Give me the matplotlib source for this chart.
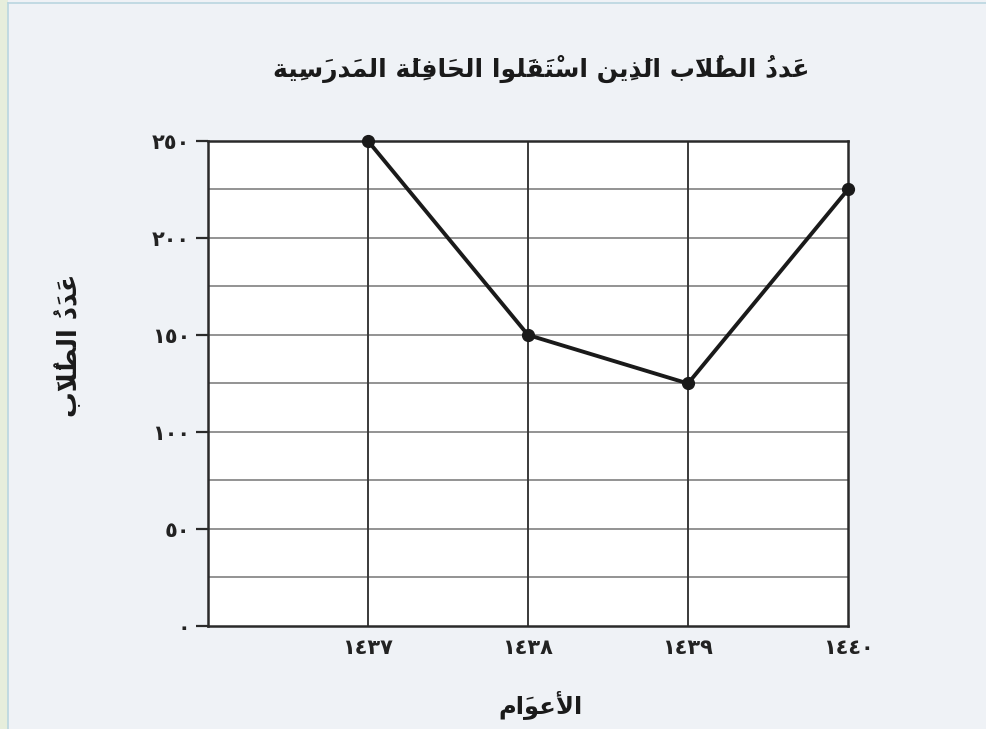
import matplotlib
matplotlib.use('Agg')
import matplotlib.pyplot as plt
from matplotlib.patches import Rectangle

years = [1437, 1438, 1439, 1440]
students = [250, 150, 125, 225]
year_labels = ['١٤٣٧', '١٤٣٨', '١٤٣٩', '١٤٤٠']
y_ticks = [0, 50, 100, 150, 200, 250]
y_tick_labels = ['٠', '٥٠', '١٠٠', '١٥٠', '٢٠٠', '٢٥٠']
title_text = 'عَددُ الطُلَاب الَذِين اسْتَقَلوا الحَافِلَة المَدرَسِية'
xlabel_text = 'الأعوَام'
ylabel_text = 'عَدَدُ الطُلَاب'

# matplotlib has no arabic shaping, so map letters to presentation forms
# (isolated, final, initial, medial); None = letter does not join forward
FORMS = {
    'ا': ('\uFE8D', '\uFE8E', None, None),
    'أ': ('\uFE83', '\uFE84', None, None),
    'ب': ('\uFE8F', '\uFE90', '\uFE91', '\uFE92'),
    'ة': ('\uFE93', '\uFE94', None, None),
    'ت': ('\uFE95', '\uFE96', '\uFE97', '\uFE98'),
    'ح': ('\uFEA1', '\uFEA2', '\uFEA3', '\uFEA4'),
    'د': ('\uFEA9', '\uFEAA', None, None),
    'ذ': ('\uFEAB', '\uFEAC', None, None),
    'ر': ('\uFEAD', '\uFEAE', None, None),
    'س': ('\uFEB1', '\uFEB2', '\uFEB3', '\uFEB4'),
    'ط': ('\uFEC1', '\uFEC2', '\uFEC3', '\uFEC4'),
    'ع': ('\uFEC9', '\uFECA', '\uFECB', '\uFECC'),
    'ف': ('\uFED1', '\uFED2', '\uFED3', '\uFED4'),
    'ق': ('\uFED5', '\uFED6', '\uFED7', '\uFED8'),
    'ل': ('\uFEDD', '\uFEDE', '\uFEDF', '\uFEE0'),
    'م': ('\uFEE1', '\uFEE2', '\uFEE3', '\uFEE4'),
    'ن': ('\uFEE5', '\uFEE6', '\uFEE7', '\uFEE8'),
    'و': ('\uFEED', '\uFEEE', None, None),
    'ي': ('\uFEF1', '\uFEF2', '\uFEF3', '\uFEF4'),
}
LAMALEF = {'ا': ('\uFEFB', '\uFEFC'), 'أ': ('\uFEF7', '\uFEF8')}
MARKS = set('\u064B\u064C\u064D\u064E\u064F\u0650\u0651\u0652')


def shape(text):
    clusters = []
    for ch in text:
        if ch in MARKS and clusters:
            clusters[-1][1] += ch
        else:
            clusters.append([ch, ''])
    merged = []
    i = 0
    while i < len(clusters):
        b, m = clusters[i]
        if b == 'ل' and i + 1 < len(clusters) and clusters[i + 1][0] in LAMALEF:
            merged.append(['LA' + clusters[i + 1][0], m + clusters[i + 1][1]])
            i += 2
        else:
            merged.append([b, m])
            i += 1

    def dual(c):
        return c in FORMS and FORMS[c][2] is not None

    def letter(c):
        return c in FORMS or c.startswith('LA')

    out = []
    for i, (b, m) in enumerate(merged):
        prev = merged[i - 1][0] if i > 0 else None
        nxt = merged[i + 1][0] if i + 1 < len(merged) else None
        jp = prev is not None and dual(prev)
        if b.startswith('LA'):
            g = LAMALEF[b[2]][1 if jp else 0]
        elif b in FORMS:
            jn = dual(b) and nxt is not None and letter(nxt)
            g = FORMS[b][(1 if jp else 0) + (2 if jn else 0)]
        else:
            g = b
        # marks have zero advance and draw to the right, so they go first
        out.append(m + g)
    return ''.join(reversed(out))


plt.rcParams['font.family'] = ['DejaVu Sans']
bg = '#eff2f6'

fig = plt.figure(figsize=(9.86, 7.29), dpi=100, facecolor=bg)
ax = fig.add_axes([0.211, 0.1413, 0.649, 0.6653])
ax.set_facecolor('white')

ax.set_xlim(1436, 1440)
ax.set_ylim(0, 250)

for v in range(25, 250, 25):
    ax.axhline(v, color='#8a8a8a', lw=1.3, zorder=1)
for x in years[:-1]:
    ax.axvline(x, color='#3a3a3a', lw=1.4, zorder=1)

ax.plot(years, students, color='#1a1a1a', lw=2.8, marker='o', markersize=8.5, zorder=3, clip_on=False)

for s in ax.spines.values():
    s.set_color('#2a2a2a')
    s.set_linewidth(1.8)

ax.set_xticks(years)
ax.set_xticklabels(year_labels, fontsize=15, fontweight='bold', color='#222222')
ax.tick_params(axis='x', length=0, pad=9)
ax.set_yticks(y_ticks)
ax.set_yticklabels(y_tick_labels, fontsize=15, fontweight='bold', color='#222222')
ax.tick_params(axis='y', length=9, width=1.6, color='#2a2a2a', pad=4)

fig.text(0.549, 0.905, shape(title_text), ha='center', va='center', fontsize=18, fontweight='bold', color='#1a1a1a')
fig.text(0.548, 0.033, shape(xlabel_text), ha='center', va='center', fontsize=17.5, fontweight='bold', color='#1a1a1a')
fig.text(0.071, 0.527, shape(ylabel_text), ha='center', va='center', rotation=90, fontsize=18.5, fontweight='bold', color='#1a1a1a')

# thin frame on the left/top like the screenshot
fig.patches.append(Rectangle((0, 0), 8 / 986, 1, transform=fig.transFigure, facecolor='#e6eedc', edgecolor='none'))
fig.lines.append(plt.Line2D([8 / 986, 8 / 986], [0, 0.996], transform=fig.transFigure, color='#b9d6e0', lw=1.2))
fig.lines.append(plt.Line2D([8 / 986, 1], [0.996, 0.996], transform=fig.transFigure, color='#b9d6e0', lw=1.2))

fig.savefig('out.png', dpi=100, facecolor=bg)
